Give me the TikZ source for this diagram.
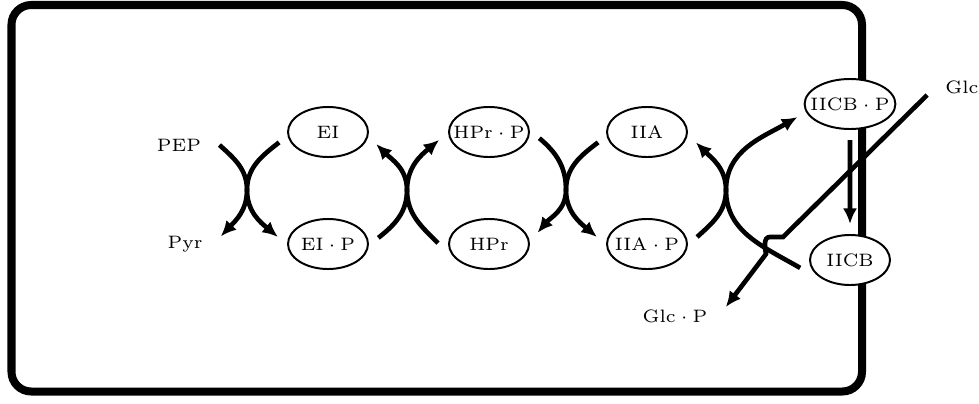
\documentclass[tikz,border=0pt]{standalone}
\usetikzlibrary{shapes.geometric}
\usetikzlibrary{arrows.meta}

\begin{document}
\begin{tikzpicture}[x=0.025cm,y=0.025cm,every node/.style={scale=2.13,font=\fontsize{6}{7}\selectfont},
  enz/.style={ellipse,draw,fill=white,line width=1.4pt,minimum width=26.7pt,minimum height=16.7pt,inner sep=0.5pt,inner xsep=-2.5pt,outer sep=3.7pt},
  lbl/.style={outer sep=2.8pt},
  flow/.style={line width=3.3pt,-{Latex[length=11pt,width=10pt]}}]

\useasboundingbox (0,0) rectangle (979,-403);
\draw[line width=5.7pt,rounded corners=14pt] (11.5,-5) rectangle (862,-391.5);

\node[lbl] (PEP) at (179,-145) {PEP};
\node[lbl] (Pyr) at (185,-244) {Pyr};
\node[enz] (EI) at (328,-132) {EI};
\node[enz] (EIP) at (328,-244) {$\mathrm{EI}\cdot\mathrm{P}$};
\node[enz] (HPrP) at (489,-132) {$\mathrm{HPr}\cdot\mathrm{P}$};
\node[enz] (HPr) at (489,-244) {HPr};
\node[enz] (IIA) at (647,-132) {IIA};
\node[enz] (IIAP) at (647,-244) {$\mathrm{IIA}\cdot\mathrm{P}$};
\node[enz] (IICBP) at (850,-104) {$\mathrm{IICB}\cdot\mathrm{P}$};
\node[enz] (IICB) at (850,-260) {IICB};
\node[lbl] (Glc) at (962,-87) {Glc};
\node[lbl] (GlcP) at (675,-316) {$\mathrm{Glc}\cdot\mathrm{P}$};

\coordinate (t1) at (247,-190);
\coordinate (t2) at (407,-190);
\coordinate (t3) at (566,-190);
\coordinate (t4) at (726,-190);
\coordinate (j1) at (783,-237);
\coordinate (j2) at (770,-237);
\coordinate (j3) at (766,-254);

\draw[flow] (PEP.east) to[out=-42,in=90] (t1) to[out=-90,in=47] (Pyr.12);
\draw[flow] (EI.192) to[out=-142,in=90] (t1) to[out=-90,in=140] (EIP.172);
\draw[flow] (EIP.7) to[out=38,in=-90] (t2) to[out=90,in=-140] (HPrP.189);
\draw[flow] (HPr.179) to[out=135,in=-90] (t2) to[out=90,in=-45] (EI.-14);
\draw[flow] (HPrP.-7) to[out=-40,in=90] (t3) to[out=-90,in=50] (HPr.13);
\draw[flow] (IIA.192) to[out=-143,in=90] (t3) to[out=-90,in=140] (IIAP.172);
\draw[flow] (IIAP.8) to[out=42,in=-90] (t4) to[out=90,in=-150] (IICBP.194);
\draw[flow] (IICB.189) to[out=150,in=-90] (t4) to[out=90,in=-45] (IIA.-12);
\draw[flow] (IICBP) -- (IICB);

\draw[flow] (Glc.193) -- (j1) -- (j2) to[out=180,in=100] (j3) -- (GlcP.10);

\end{tikzpicture}
\end{document}
